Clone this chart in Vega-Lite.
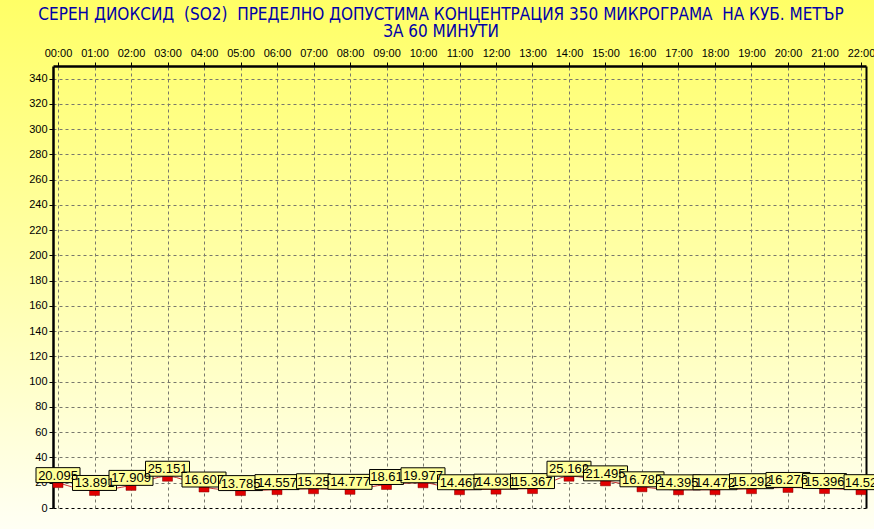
{
  "$schema": "https://vega.github.io/schema/vega-lite/v6.json",
  "width": 874,
  "height": 529,
  "autosize": "none",
  "padding": 0,
  "background": "#ffffc8",
  "title": {
    "text": ["СЕРЕН ДИОКСИД \u00a0(SO2) \u00a0ПРЕДЕЛНО ДОПУСТИМА КОНЦЕНТРАЦИЯ 350 МИКРОГРАМА \u00a0НА КУБ. МЕТЪР", "ЗА 60 МИНУТИ"],
    "font": "DejaVu Sans Condensed, Liberation Sans, sans-serif",
    "fontSize": 17,
    "fontWeight": "normal",
    "color": "#0000a8",
    "lineHeight": 17,
    "offset": -41,
    "dx": 4,
    "anchor": "middle",
    "frame": "group"
  },
  "config": {
    "view": {
      "stroke": null,
      "fill": {
        "gradient": "linear",
        "x1": 0, "y1": 0, "x2": 0, "y2": 1,
        "stops": [
          {"offset": 0, "color": "#ffff66"},
          {"offset": 0.5, "color": "#ffffa8"},
          {"offset": 1, "color": "#fffff4"}
        ]
      }
    },
    "axis": {
      "labelFont": "Liberation Sans",
      "labelFontSize": 11,
      "labelColor": "#000000",
      "tickColor": "#000000",
      "domainColor": "#000000"
    }
  },
  "data": {
    "values": [
      {"hour": 0, "value": 20.095},
      {"hour": 1, "value": 13.891},
      {"hour": 2, "value": 17.909},
      {"hour": 3, "value": 25.151},
      {"hour": 4, "value": 16.607},
      {"hour": 5, "value": 13.785},
      {"hour": 6, "value": 14.557},
      {"hour": 7, "value": 15.25},
      {"hour": 8, "value": 14.777},
      {"hour": 9, "value": 18.61},
      {"hour": 10, "value": 19.977},
      {"hour": 11, "value": 14.467},
      {"hour": 12, "value": 14.931},
      {"hour": 13, "value": 15.367},
      {"hour": 14, "value": 25.162},
      {"hour": 15, "value": 21.495},
      {"hour": 16, "value": 16.782},
      {"hour": 17, "value": 14.395},
      {"hour": 18, "value": 14.472},
      {"hour": 19, "value": 15.292},
      {"hour": 20, "value": 16.276},
      {"hour": 21, "value": 15.396},
      {"hour": 22, "value": 14.52}
    ]
  },
  "encoding": {
    "x": {
      "field": "hour",
      "type": "quantitative",
      "scale": {"domain": [-0.137, 22.137], "range": [53, 866], "nice": false, "zero": false},
      "axis": {
        "orient": "top",
        "offset": -66,
        "title": null,
        "values": [0,1,2,3,4,5,6,7,8,9,10,11,12,13,14,15,16,17,18,19,20,21,22],
        "labelExpr": "(datum.value < 10 ? '0' : '') + datum.value + ':00'",
        "labelFlush": false,
        "labelOverlap": false,
        "labelPadding": 4,
        "tickSize": 4,
        "domainWidth": 2.5,
        "grid": true,
        "gridColor": "#78786c",
        "gridDash": [3, 3],
        "gridWidth": 1
      }
    }
  },
  "resolve": {"axis": {"y": "independent"}},
  "layer": [
    {
      "mark": {"type": "line", "color": "#c83030", "strokeWidth": 1, "interpolate": "monotone"},
      "encoding": {
        "y": {
          "field": "value",
          "type": "quantitative",
          "scale": {"domain": [0, 350], "range": [508, 66], "nice": false, "zero": false},
          "axis": {
            "orient": "left",
            "offset": -53,
            "title": null,
            "values": [0,20,40,60,80,100,120,140,160,180,200,220,240,260,280,300,320,340],
            "labelPadding": 2,
            "tickSize": 4,
            "domainWidth": 2.5,
            "grid": true,
            "gridColor": {"condition": {"test": "datum.value === 0", "value": "#000000"}, "value": "#78786c"},
            "gridDash": [3, 3],
            "gridWidth": 1
          }
        }
      }
    },
    {
      "mark": {"type": "point", "shape": "M-1,-0.5H1V0.5H-1Z", "size": 100, "filled": true, "fill": "#e00000", "stroke": "#800000", "strokeWidth": 0.5, "opacity": 1, "yOffset": 2.5},
      "encoding": {
        "y": {
          "field": "value",
          "type": "quantitative",
          "axis": {"orient": "right", "offset": -8, "title": null, "labels": false, "ticks": false, "grid": false, "domainWidth": 2}
        }
      }
    },
    {
      "mark": {"type": "point", "size": 1936, "filled": true, "fill": "#ffff99", "stroke": "#000000", "strokeWidth": 1, "opacity": 1, "yOffset": -7.5},
      "encoding": {
        "y": {"field": "value", "type": "quantitative", "axis": null},
        "shape": {
          "condition": {"test": "length('' + datum.value) < 6", "value": "M-0.77,-0.34H0.77V0.34H-0.77Z"},
          "value": "M-1,-0.34H1V0.34H-1Z"
        }
      }
    },
    {
      "mark": {"type": "text", "font": "Liberation Sans", "fontSize": 13, "color": "#000000", "align": "center", "baseline": "middle", "yOffset": -7},
      "encoding": {
        "y": {"field": "value", "type": "quantitative", "axis": null},
        "text": {"field": "value", "type": "nominal"}
      }
    }
  ]
}
